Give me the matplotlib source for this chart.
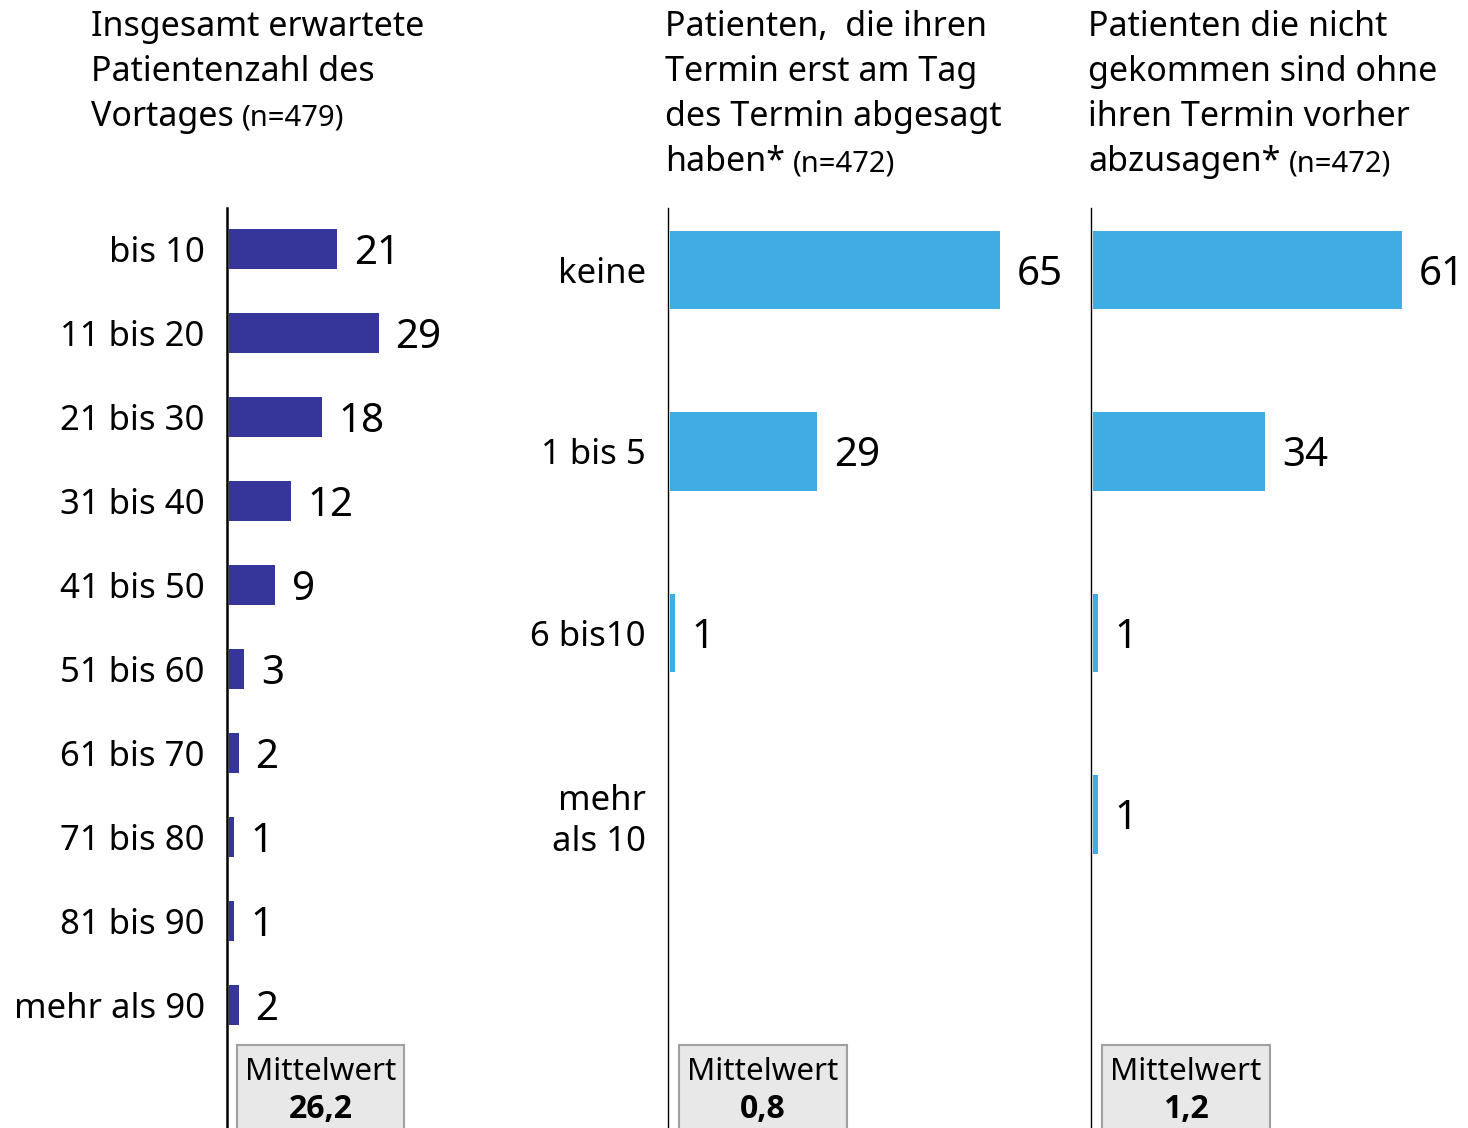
import matplotlib
matplotlib.use("Agg")
import matplotlib.pyplot as plt
from matplotlib.patches import Rectangle

plt.rcParams['font.family'] = ['Noto Sans', 'DejaVu Sans']

# data
cats_left = ["bis 10", "11 bis 20", "21 bis 30", "31 bis 40", "41 bis 50",
             "51 bis 60", "61 bis 70", "71 bis 80", "81 bis 90", "mehr als 90"]
vals_left = [21, 29, 18, 12, 9, 3, 2, 1, 1, 2]

cats_right = ["keine", "1 bis 5", "6 bis10", "mehr\nals 10"]
vals_mid = [65, 29, 1, 0]
vals_right = [61, 34, 1, 1]

titles = [
    ["Insgesamt erwartete", "Patientenzahl des", "Vortages"],
    ["Patienten,  die ihren", "Termin erst am Tag", "des Termin abgesagt", "haben*"],
    ["Patienten die nicht", "gekommen sind ohne", "ihren Termin vorher", "abzusagen*"],
]
n_labels = ["(n=479)", "(n=472)", "(n=472)"]
means = ["26,2", "0,8", "1,2"]

dark_blue = "#35359a"
light_blue = "#3fade3"

W, H = 1468, 1128
fig = plt.figure(figsize=(W / 100, H / 100), dpi=100)


def rect(x0, x1, y_top, y_bot):
    return [x0 / W, 1 - y_bot / H, (x1 - x0) / W, (y_bot - y_top) / H]


def panel(x0, x1, cats, vals, color, y_first, y_step, bar_h, px_unit, spine_w, show_labels):
    ax = fig.add_axes(rect(x0, x1, 208, H))
    pos = list(range(len(cats)))
    ax.barh(pos, vals, height=bar_h, color=color)
    for p, v in zip(pos, vals):
        if v > 0:
            ax.annotate(str(v), (v, p), xytext=(12, 0), textcoords="offset points",
                        va="center_baseline", ha="left", fontsize=29)
    top = (208 - y_first) / y_step
    bot = (H - y_first) / y_step
    ax.set_ylim(bot, top)
    off = 1.5 / px_unit
    ax.set_xlim(-off, (x1 - x0) / px_unit - off)
    for s in ["top", "right", "bottom"]:
        ax.spines[s].set_visible(False)
    ax.spines["left"].set_linewidth(spine_w)
    ax.spines["left"].set_position(("data", -off))
    ax.set_xticks([])
    ax.set_yticks(pos)
    if show_labels:
        ax.set_yticklabels(cats, fontsize=25, ha="right", multialignment="right",
                           linespacing=1.25, va="center_baseline")
    else:
        ax.set_yticklabels([])
    ax.tick_params(axis="y", length=0, pad=16)
    return ax


panel(227, 480, cats_left, vals_left, dark_blue, 249, 84, 0.48, 5.18, 1.8, True)
panel(668, 1075, cats_right, vals_mid, light_blue, 270, 181.5, 0.43, 5.09, 1.0, True)
panel(1091, 1468, cats_right, vals_right, light_blue, 270, 181.5, 0.43, 5.08, 1.0, False)

# titles
title_x = [91, 665, 1088]
line_texts = []
for tx, lines in zip(title_x, titles):
    last = None
    for i, line in enumerate(lines):
        last = fig.text(tx / W, 1 - (36 + 45 * i) / H, line, fontsize=24.5,
                        ha="left", va="baseline")
    line_texts.append(last)

fig.canvas.draw()
renderer = fig.canvas.get_renderer()
for t, n in zip(line_texts, n_labels):
    bb = t.get_window_extent(renderer)
    x, y = t.get_position()
    fig.text(bb.x1 / W + 8 / W, y, n, fontsize=21, ha="left", va="baseline")

# Mittelwert boxes
box_x = [(237, 404), (679, 847), (1102, 1270)]
for (bx0, bx1), m in zip(box_x, means):
    fig.add_artist(Rectangle((bx0 / W, -0.02), (bx1 - bx0) / W, (H - 1045) / H + 0.02,
                             transform=fig.transFigure, facecolor="#e8e8e8",
                             edgecolor="#a0a0a0", linewidth=1.5))
    cx = (bx0 + bx1) / 2 / W
    fig.text(cx, 1 - 1069 / H, "Mittelwert", fontsize=22.5, ha="center",
             va="center_baseline")
    fig.text(cx, 1 - 1106 / H, m, fontsize=23, fontweight="bold",
             family=["Open Sans", "DejaVu Sans"], ha="center", va="center_baseline")

fig.savefig("out.png", dpi=100)
